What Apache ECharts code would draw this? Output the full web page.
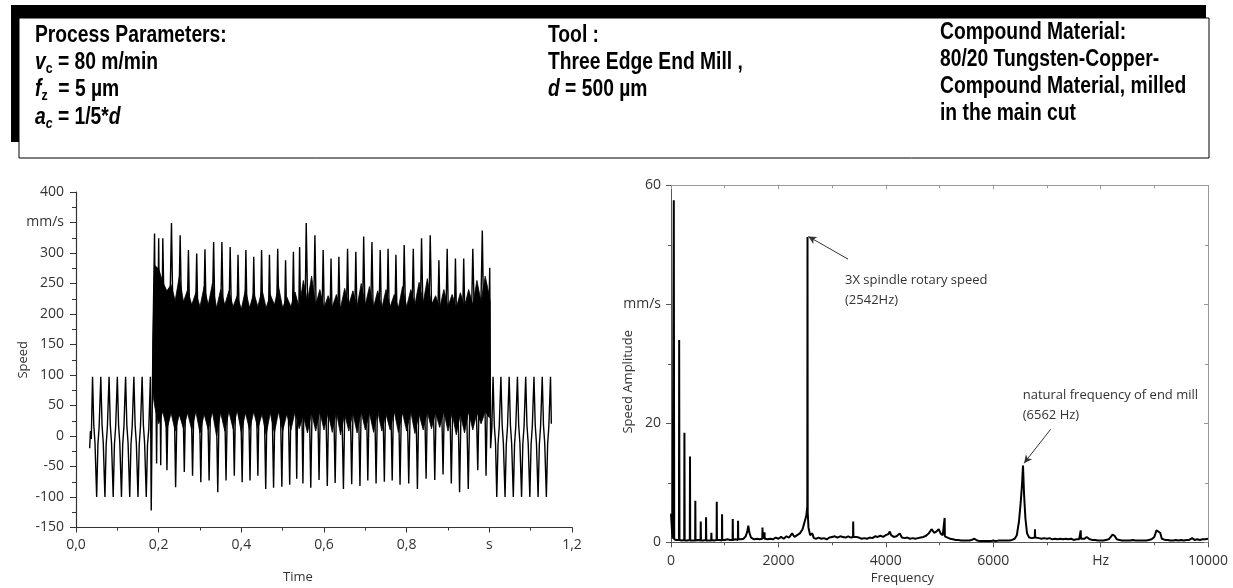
<!DOCTYPE html>
<html>
<head>
<meta charset="utf-8">
<script src="https://cdn.jsdelivr.net/npm/echarts@6.0.0/dist/echarts.min.js"></script>
<style>
html,body{margin:0;padding:0;background:#fff;}
#chart{width:1233px;height:588px;}
</style>
</head>
<body>
<div id="chart"></div>
<script>
// ---------- tick labels ----------
const timeTickLabels = ['0,0', '0,2', '0,4', '0,6', '0,8', 's', '1,2'];
const speedTickLabels = ['-150', '-100', '-50', '0', '50', '100', '150', '200', '250', '300', 'mm/s', '400'];
const freqTickLabels = ['0', '2000', '4000', '6000', 'Hz', '10000'];
const ampTickLabels = ['0', '20', 'mm/s', '60'];

// ---------- time signal (s, mm/s) ----------
const preCutSignal = [
  [0.033,-20],[0.035,8],[0.037,-5],
  [0.040,97],[0.043,18],[0.046,-12],
  [0.050,-100],[0.053,-14],[0.056,16],
  [0.060,97],[0.063,18],[0.066,-12],
  [0.070,-100],[0.073,-14],[0.076,16],
  [0.080,97],[0.083,18],[0.086,-12],
  [0.090,-100],[0.093,-14],[0.096,16],
  [0.100,97],[0.103,18],[0.106,-12],
  [0.110,-100],[0.113,-14],[0.116,16],
  [0.120,97],[0.123,18],[0.126,-12],
  [0.130,-100],[0.133,-14],[0.136,16],
  [0.140,97],[0.143,18],[0.146,-12],
  [0.150,-100],[0.153,-14],[0.156,16],
  [0.160,97],[0.163,18],[0.166,-12],
  [0.170,-100],[0.173,-14],[0.176,10],
  [0.180,97],[0.182,-122],[0.186,150]
];
const cuttingSpikes = [
  [0.190,332],[0.195,-45],[0.200,324],[0.205,-48],[0.210,324],[0.220,-56],[0.231,349],[0.241,-84],
  [0.252,329],[0.262,-59],[0.272,305],[0.282,-65],[0.292,299],[0.302,-76],[0.312,306],[0.322,-73],
  [0.333,318],[0.343,-92],[0.353,318],[0.363,-73],[0.373,310],[0.383,-65],[0.392,297],[0.402,-76],
  [0.411,305],[0.421,-73],[0.430,294],[0.440,-65],[0.449,305],[0.459,-87],[0.468,297],[0.478,-85],
  [0.488,307],[0.498,-83],[0.507,288],[0.517,-80],[0.526,302],[0.534,-70],[0.541,310],[0.549,-78],
  [0.557,349],[0.568,-85],[0.578,329],[0.588,-72],[0.598,305],[0.608,-82],[0.617,291],[0.627,-77],
  [0.636,294],[0.647,-87],[0.657,307],[0.667,-79],[0.677,302],[0.687,-82],[0.696,327],[0.706,-73],
  [0.716,318],[0.726,-78],[0.736,305],[0.746,-75],[0.755,307],[0.765,-73],[0.774,297],[0.784,-80],
  [0.794,313],[0.805,-78],[0.816,307],[0.826,-87],[0.836,324],[0.847,-70],[0.857,329],[0.868,-72],
  [0.878,288],[0.888,-63],[0.898,307],[0.908,-78],[0.918,291],[0.928,-92],[0.938,291],[0.949,-87],
  [0.960,307],[0.972,-56],[0.983,337],[0.992,-65],[1.001,276],[1.0025,60]
];
const postCutSignal = [
  [1.003,-20],[1.006,12],
  [1.009,97],[1.012,18],[1.015,-12],
  [1.018,-100],[1.021,-14],[1.024,16],
  [1.028,97],[1.031,18],[1.034,-12],
  [1.038,-100],[1.041,-14],[1.044,16],
  [1.048,97],[1.051,18],[1.054,-12],
  [1.058,-100],[1.061,-14],[1.064,16],
  [1.068,97],[1.071,18],[1.074,-12],
  [1.078,-100],[1.081,-14],[1.084,16],
  [1.088,97],[1.091,18],[1.094,-12],
  [1.098,-100],[1.101,-14],[1.104,16],
  [1.108,97],[1.111,18],[1.114,-12],
  [1.118,-100],[1.121,-14],[1.124,16],
  [1.128,97],[1.131,18],[1.134,-12],
  [1.138,-100],[1.141,-14],[1.144,16],
  [1.148,97],[1.150,20]
];
// dense cutting band envelope
const bandTimes = [0.186,
  0.19,0.20,0.21,0.22,0.23,0.24,0.25,0.26,0.27,0.28,
  0.29,0.30,0.31,0.32,0.33,0.34,0.35,0.36,0.37,0.38,
  0.39,0.40,0.41,0.42,0.43,0.44,0.45,0.46,0.47,0.48,
  0.49,0.50,0.51,0.52,0.53,0.54,0.55,0.56,0.57,0.58,
  0.59,0.60,0.61,0.62,0.63,0.64,0.65,0.66,0.67,0.68,
  0.69,0.70,0.71,0.72,0.73,0.74,0.75,0.76,0.77,0.78,
  0.79,0.80,0.81,0.82,0.83,0.84,0.85,0.86,0.87,0.88,
  0.89,0.90,0.91,0.92,0.93,0.94,0.95,0.96,0.97,0.98,
  0.99,1.00,1.002];
const bandHigh = [150,
  280,274,252,238,248,222,262,220,240,215,
  235,212,245,215,250,210,240,215,238,212,
  230,208,240,210,235,212,240,210,232,215,
  245,210,228,212,236,210,255,220,262,215,
  240,210,230,212,232,210,242,215,238,212,
  250,215,245,212,238,210,240,212,232,210,
  245,212,240,215,252,218,258,215,230,210,
  240,212,232,210,235,212,240,215,255,220,
  262,230,220];
const bandLow = [70,
  50,20,40,10,38,8,35,12,38,10,
  40,5,36,10,40,0,38,8,40,12,
  42,6,38,10,40,12,36,2,38,5,
  40,8,36,10,40,12,34,5,38,8,
  40,10,38,6,40,2,36,8,38,5,
  40,10,38,6,40,8,36,10,40,6,
  38,8,40,4,36,10,40,12,38,14,
  40,8,38,2,36,5,40,10,38,20,
  40,30,45];

// ---------- spectrum (Hz, mm/s) ----------
const spectrum = [
  [0,4.8],[15,2.5],[30,0.6],[45,0.5],[52,57.5],[60,0.5],[100,0.4],[148,0.4],[152,34],[158,0.4],
  [200,0.3],[246,0.4],[250,18.4],[255,0.3],[300,0.3],[350,0.4],[354,14.4],[358,0.3],[400,0.3],
  [450,0.3],[453,7.0],[457,0.3],[500,0.4],[551,0.3],[554,3.5],[558,0.3],[600,0.3],[650,0.4],
  [653,4.2],[657,0.3],[700,0.3],[749,0.3],[752,1.6],[756,0.4],[800,0.3],[849,0.4],[852,6.8],
  [856,0.4],[900,0.4],[948,0.3],[951,4.7],[955,0.4],[1000,0.4],[1050,0.5],[1100,0.4],[1147,0.4],
  [1150,3.9],[1154,0.4],[1200,0.5],[1246,0.4],[1249,3.6],[1253,0.5],[1300,0.5],[1350,0.6],
  [1390,1.0],[1420,1.8],[1440,2.8],[1460,1.6],[1490,0.8],[1550,0.5],[1600,0.6],[1650,0.5],
  [1700,0.6],[1704,2.5],[1708,0.6],[1738,0.6],[1742,1.7],[1746,0.6],[1800,0.5],[1850,0.6],
  [1900,0.5],[1950,0.8],[2000,0.6],[2050,0.9],[2100,0.6],[2150,1.0],[2200,0.8],[2255,1.5],
  [2300,0.9],[2350,1.2],[2400,1.5],[2450,2.2],[2490,3.5],[2520,4.5],[2538,6],[2542,51.3],
  [2546,5],[2560,2.5],[2590,1.2],[2630,1.5],[2660,0.7],[2700,0.6],[2750,0.8],[2800,0.6],
  [2850,0.7],[2900,0.5],[2950,0.8],[3000,0.9],[3050,1.0],[3100,0.8],[3150,1.0],[3200,0.9],
  [3250,0.8],[3300,1.0],[3350,0.8],[3390,0.9],[3393,3.5],[3397,0.9],[3450,0.9],[3500,0.8],
  [3550,0.6],[3600,0.7],[3650,0.6],[3700,0.8],[3750,0.7],[3800,1.0],[3850,0.9],[3900,1.1],
  [3950,0.9],[4000,1.2],[4050,1.4],[4074,1.8],[4100,1.2],[4150,0.9],[4200,1.0],[4259,1.5],
  [4300,0.8],[4350,0.7],[4400,0.8],[4450,0.6],[4500,0.7],[4550,0.6],[4600,0.7],[4650,0.8],
  [4700,0.9],[4750,1.1],[4800,1.5],[4852,2.2],[4900,1.6],[4940,1.8],[4985,2.2],[5020,1.5],
  [5060,1.2],[5093,1.0],[5096,4.1],[5100,1.0],[5150,0.8],[5200,0.6],[5250,0.5],[5300,0.4],
  [5350,0.4],[5400,0.3],[5450,0.3],[5500,0.3],[5550,0.3],[5600,0.4],[5650,0.6],[5700,0.3],
  [5750,0.2],[5800,0.2],[5850,0.2],[5900,0.2],[5950,0.2],[6000,0.3],[6050,0.2],[6100,0.3],
  [6150,0.3],[6200,0.3],[6250,0.3],[6300,0.3],[6350,0.4],[6400,0.6],[6440,1.2],[6480,3.5],
  [6510,6.5],[6535,9.5],[6555,12.9],[6575,8],[6600,4],[6630,1.5],[6670,0.8],[6720,0.7],
  [6775,0.8],[6778,2.2],[6782,0.8],[6850,0.7],[6900,0.6],[6950,0.7],[7000,0.6],[7050,0.7],
  [7100,0.5],[7150,0.6],[7200,0.5],[7250,0.6],[7300,0.5],[7350,0.6],[7400,0.5],[7450,0.6],
  [7500,0.4],[7550,0.5],[7600,0.5],[7627,0.6],[7630,2.0],[7634,0.6],[7700,0.6],[7740,0.9],
  [7800,0.5],[7850,0.4],[7900,0.4],[7950,0.3],[8000,0.3],[8050,0.3],[8100,0.4],[8150,0.5],
  [8190,0.9],[8222,1.3],[8260,1.1],[8300,0.5],[8350,0.4],[8400,0.3],[8450,0.3],[8500,0.3],
  [8550,0.3],[8600,0.4],[8650,0.3],[8700,0.3],[8750,0.3],[8800,0.3],[8850,0.3],[8900,0.4],
  [8950,0.5],[9000,0.9],[9040,2.0],[9074,2.3],[9110,1.6],[9140,0.6],[9200,0.4],[9250,0.4],
  [9300,0.3],[9350,0.3],[9400,0.4],[9450,0.3],[9500,0.4],[9550,0.3],[9600,0.4],[9650,0.4],
  [9704,0.7],[9750,0.4],[9800,0.5],[9850,0.4],[9900,0.5],[9950,0.5],[10000,0.6]
];

// ---------- texts ----------
const annotationTexts = ['3X spindle rotary speed\n(2542Hz)', 'natural frequency of end mill\n(6562 Hz)'];
const headerLeft = ['Process Parameters:', '{i|v}{s|c} = 80 m/min', '{i|f}{s|z}  = 5 µm', '{i|a}{si|c} = 1/5*{i|d}'];
const headerMid = ['Tool :', 'Three Edge End Mill ,', '{i|d} = 500 µm'];
const headerRight = ['Compound Material:', '80/20 Tungsten-Copper-', 'Compound Material, milled', 'in the main cut'];

// ---------- build ----------
const FONT = 'Open Sans';
const HFONT = 'Liberation Sans';
const HSIZE = 23.5;
const richHeader = {
  i: { fontStyle: 'italic', fontSize: HSIZE, fontFamily: HFONT, fontWeight: 'bold', lineHeight: 28 },
  s: { fontSize: 15, fontFamily: HFONT, fontWeight: 'bold', padding: [12, 0, 0, 0] },
  si: { fontSize: 15, fontFamily: HFONT, fontWeight: 'bold', fontStyle: 'italic', padding: [12, 0, 0, 0] }
};
function headerTexts(lines, x, ys) {
  return lines.map((t, k) => ({
    type: 'text', x: x, y: ys[k], scaleX: 0.82, silent: true,
    style: {
      text: t, fill: '#000', fontSize: HSIZE, fontFamily: HFONT, fontWeight: 'bold',
      lineHeight: 28, verticalAlign: 'middle', align: 'left', rich: richHeader
    }
  }));
}
const rowY = [36, 63, 90, 118];
const rowYRight = [33, 60, 87, 114];

const graphics = [
  { type: 'rect', shape: { x: 11, y: 5, width: 1195, height: 13 }, style: { fill: '#000' }, silent: true },
  { type: 'rect', shape: { x: 11, y: 5, width: 8, height: 137 }, style: { fill: '#000' }, silent: true },
  { type: 'rect', shape: { x: 19, y: 18, width: 1190, height: 140 }, style: { fill: 'none', stroke: '#000', lineWidth: 1 }, silent: true }
].concat(headerTexts(headerLeft, 35, rowY), headerTexts(headerMid, 548, rowY), headerTexts(headerRight, 940, rowYRight));

const axisTxt = { color: '#333', fontFamily: FONT, fontSize: 14 };
const nameTxt = { color: '#333', fontFamily: FONT, fontSize: 13 };

const chart = echarts.init(document.getElementById('chart'), null, { renderer: 'canvas' });
const option = {
  backgroundColor: '#fff',
  animation: false,
  graphic: graphics,
  grid: [
    { left: 76, top: 192, right: 661, bottom: 60.5, outerBoundsMode: 'none', containLabel: false },
    { left: 671, top: 185.3, right: 25, bottom: 45.7, outerBoundsMode: 'none', containLabel: false }
  ],
  xAxis: [
    {
      type: 'value', gridIndex: 0, min: 0, max: 1.2, interval: 0.2,
      axisLine: { onZero: false, lineStyle: { color: '#333', width: 1.2 } },
      axisTick: { length: 5, lineStyle: { color: '#333' } },
      minorTick: { show: true, splitNumber: 2, length: 3, lineStyle: { color: '#333' } },
      splitLine: { show: false }, minorSplitLine: { show: false },
      axisLabel: Object.assign({ margin: 11, formatter: v => timeTickLabels[Math.round(v / 0.2)] }, axisTxt),
      name: 'Time', nameLocation: 'middle', nameGap: 43, nameMoveOverlap: false,
      nameTextStyle: Object.assign({ padding: [0, 52, 0, 0] }, nameTxt)
    },
    {
      type: 'value', gridIndex: 1, min: 0, max: 10000, interval: 2000,
      axisLine: { onZero: false, lineStyle: { color: '#555', width: 1 } },
      axisTick: { length: 5, lineStyle: { color: '#555' } },
      minorTick: { show: true, splitNumber: 2, length: 3, lineStyle: { color: '#555' } },
      splitLine: { show: false },
      axisLabel: Object.assign({ margin: 12, formatter: v => freqTickLabels[Math.round(v / 2000)] }, axisTxt),
      name: 'Frequency', nameLocation: 'middle', nameGap: 29, nameMoveOverlap: false,
      nameTextStyle: Object.assign({ padding: [0, 74, 0, 0] }, nameTxt)
    },
    {
      type: 'value', gridIndex: 1, position: 'top', min: 0, max: 10000, interval: 2000,
      axisLine: { onZero: false, lineStyle: { color: '#999', width: 1 } },
      axisTick: { inside: true, length: 4, lineStyle: { color: '#999' } },
      minorTick: { show: true, splitNumber: 2, length: 3, lineStyle: { color: '#999' } },
      splitLine: { show: false }, axisLabel: { show: false }
    }
  ],
  yAxis: [
    {
      type: 'value', gridIndex: 0, min: -150, max: 400, interval: 50,
      axisLine: { show: true, onZero: false, lineStyle: { color: '#333', width: 1.2 } },
      axisTick: { show: true, length: 6, lineStyle: { color: '#333' } },
      minorTick: { show: true, splitNumber: 2, length: 4, lineStyle: { color: '#333' } },
      splitLine: { show: false },
      axisLabel: Object.assign({ margin: 12, formatter: v => speedTickLabels[Math.round((v + 150) / 50)] }, axisTxt),
      name: 'Speed', nameLocation: 'middle', nameGap: 46, nameRotate: 90, nameMoveOverlap: false,
      nameTextStyle: nameTxt
    },
    {
      type: 'value', gridIndex: 1, min: 0, max: 60, interval: 20,
      axisLine: { show: true, onZero: false, lineStyle: { color: '#555', width: 1 } },
      axisTick: { show: true, length: 5, lineStyle: { color: '#555' } },
      minorTick: { show: true, splitNumber: 2, length: 3, lineStyle: { color: '#555' } },
      splitLine: { show: false },
      axisLabel: Object.assign({ margin: 10, formatter: v => ampTickLabels[Math.round(v / 20)] }, axisTxt),
      name: 'Speed Amplitude', nameLocation: 'middle', nameGap: 36, nameRotate: 90, nameMoveOverlap: false,
      nameTextStyle: Object.assign({ padding: [0, 36, 0, 0] }, nameTxt)
    },
    {
      type: 'value', gridIndex: 1, position: 'right', min: 0, max: 60, interval: 20,
      axisLine: { show: true, onZero: false, lineStyle: { color: '#999', width: 1 } },
      axisTick: { show: true, inside: true, length: 4, lineStyle: { color: '#999' } },
      minorTick: { show: true, splitNumber: 2, length: 3, lineStyle: { color: '#999' } },
      splitLine: { show: false }, axisLabel: { show: false }
    }
  ],
  series: [
    {
      type: 'custom', xAxisIndex: 0, yAxisIndex: 0, silent: true, z: 1,
      data: bandTimes.map((t, i) => [t, bandLow[i], bandHigh[i]]),
      encode: { x: 0, y: [1, 2] },
      renderItem: function (params, api) {
        if (params.dataIndex !== 0) return null;
        const pts = [];
        for (let i = 0; i < bandTimes.length; i++) pts.push(api.coord([bandTimes[i], bandHigh[i]]));
        for (let i = bandTimes.length - 1; i >= 0; i--) pts.push(api.coord([bandTimes[i], bandLow[i]]));
        return { type: 'polygon', shape: { points: pts }, style: { fill: '#000', stroke: '#000', lineWidth: 0.8 } };
      }
    },
    {
      type: 'line', xAxisIndex: 0, yAxisIndex: 0, silent: true, z: 2,
      data: preCutSignal.concat(cuttingSpikes, postCutSignal),
      showSymbol: false, symbol: 'none',
      lineStyle: { color: '#000', width: 1.4 }
    },
    {
      type: 'line', xAxisIndex: 1, yAxisIndex: 1, silent: true, z: 2,
      data: spectrum, showSymbol: false, symbol: 'none',
      lineStyle: { color: '#000', width: 2 },
      markLine: {
        silent: true, symbol: ['none', 'arrow'], symbolSize: [6, 8], precision: 4,
        lineStyle: { color: '#333', width: 1, type: 'solid' },
        label: { show: false },
        data: [
          [{ coord: [3296, 47.6] }, { coord: [2557, 51.4] }],
          [{ coord: [7071, 19.0] }, { coord: [6575, 13.3] }]
        ]
      },
      markPoint: {
        silent: true, symbol: 'circle', symbolSize: 0.1,
        itemStyle: { color: 'rgba(0,0,0,0)' },
        label: { show: true, position: 'right', distance: 0, color: '#333', fontFamily: FONT, fontSize: 13, lineHeight: 20, align: 'left' },
        data: [
          { coord: [3240, 42.3], label: { formatter: annotationTexts[0] } },
          { coord: [6549, 23.1], label: { formatter: annotationTexts[1] } }
        ]
      }
    }
  ]
};
chart.setOption(option);
</script>
</body>
</html>
